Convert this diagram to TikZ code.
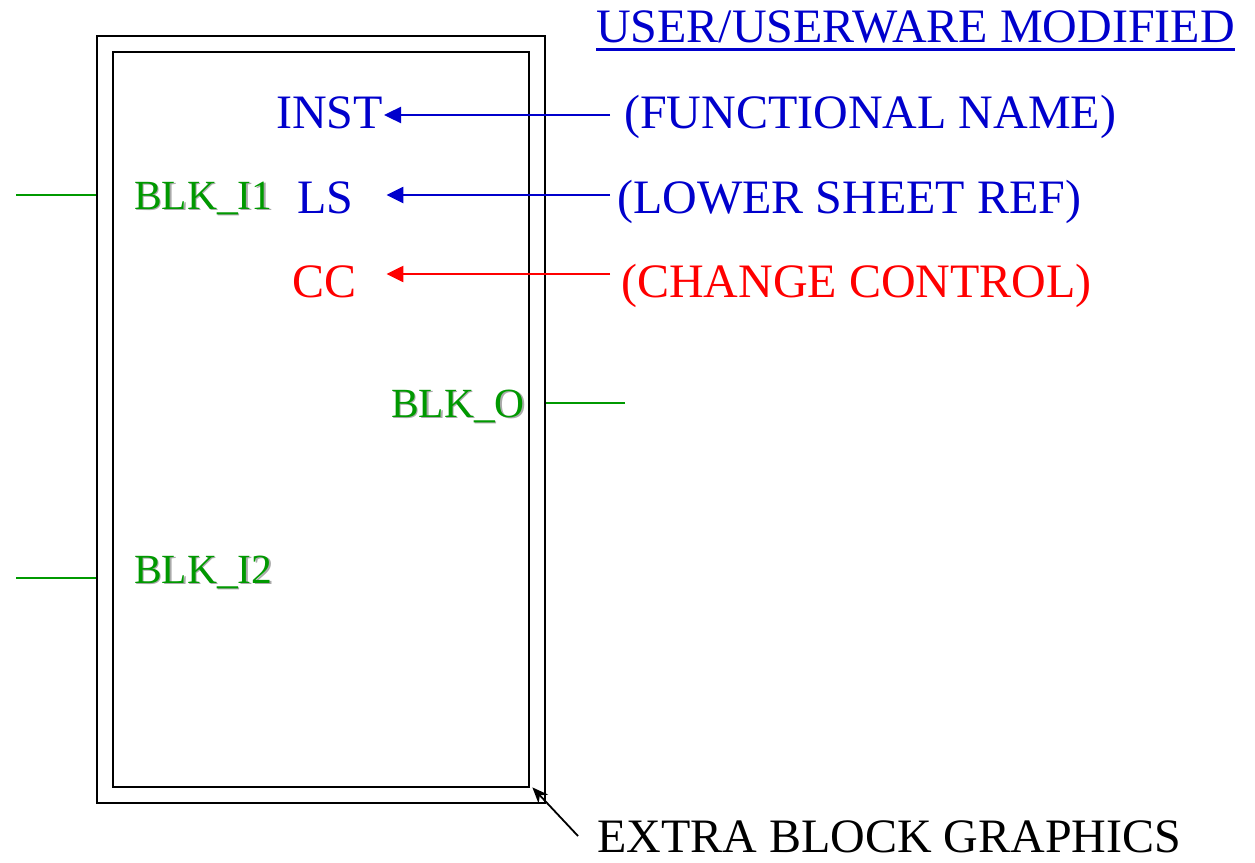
\documentclass[tikz,border=0pt]{standalone}
\usepackage{fontspec}
\setmainfont{Liberation Serif}
\usetikzlibrary{arrows.meta}
\definecolor{refblue}{RGB}{0,0,204}
\definecolor{refred}{RGB}{255,0,0}
\definecolor{pingreen}{RGB}{0,153,0}
\definecolor{pinshade}{RGB}{170,170,170}
% pin label with a soft drop shadow
\newcommand{\pinlabel}[1]{\makebox[0pt][l]{\raisebox{-1.6pt}{\hspace{1.6pt}\textcolor{pinshade}{#1}}}#1}
\tikzset{
  bigtext/.style={inner sep=0pt, font=\fontsize{48}{57}\selectfont},
  pintext/.style={inner sep=0pt, text=pingreen, font=\fontsize{41.5}{48}\selectfont},
  frame/.style={draw=black, line width=2.8pt, minimum width=#1},
  pinwire/.style={draw=pingreen, line width=2.2pt},
  tagarrow/.style={line width=2.4pt, -{Triangle[length=17pt,width=16pt]}},
}
\begin{document}
\begin{tikzpicture}[x=1pt,y=-1pt]
\useasboundingbox (0,0) rectangle (1255,862);

% symbol body: outer and inner frame
\node[frame=448pt, minimum height=767pt, inner sep=0pt] (outer) at (321,419.5) {};
\node[frame=416pt, minimum height=735pt, inner sep=0pt] (inner) at (321,419.5) {};

% pin names
\node[pintext, anchor=base west] (i1) at (134,209) {\pinlabel{BLK\_I1}};
\node[pintext, anchor=base west] (i2) at (134,583) {\pinlabel{BLK\_I2}};
\node[pintext, anchor=base east] (o) at (525,417) {\pinlabel{BLK\_O}};

% pin wires
\coordinate (w1) at (16,195);
\coordinate (w2) at (16,578);
\coordinate (wo) at (625,403);
\draw[pinwire] (w1) -- (w1 -| outer.west);
\draw[pinwire] (w2) -- (w2 -| outer.west);
\draw[pinwire] (wo) -- (wo -| outer.east);

% block attributes
\node[bigtext, text=refblue, anchor=base east] (inst) at (383,128) {INST};
\node[bigtext, text=refblue, anchor=base west] (ls) at (297,213) {LS};
\node[bigtext, text=refred, anchor=base west] (cc) at (292,297) {CC};

% attribute descriptions
\node[bigtext, text=refblue, anchor=base west] (fn) at (624,128) {(FUNCTIONAL NAME)};
\node[bigtext, text=refblue, anchor=base west] (lsr) at (617,213) {(LOWER SHEET REF)};
\node[bigtext, text=refred, anchor=base west] (ccr) at (621,297) {(CHANGE CONTROL)};

\coordinate (s1) at (610,115);
\coordinate (s2) at (610,195);
\coordinate (s3) at (610,274);
\draw[tagarrow, refblue] (s1) -- ([xshift=1pt]s1 -| inst.east);
\draw[tagarrow, refblue] (s2) -- ([xshift=33pt]s2 -| ls.east);
\draw[tagarrow, refred] (s3) -- ([xshift=30pt]s3 -| cc.east);

% heading
\node[bigtext, text=refblue, anchor=base west] (title) at (596,42) {USER/USERWARE MODIFIED};
\draw[refblue, line width=3pt] ([yshift=-7pt]title.base west) -- ([yshift=-7pt]title.base east);

% extra graphics callout
\node[bigtext, anchor=base west] (extra) at (597,852) {EXTRA BLOCK GRAPHICS};
\coordinate (eg) at (578,836);
\draw[line width=1.8pt, -{Stealth[length=16pt,width=13pt]}] (eg) -- ([shift={(2pt,1pt)}]inner.south east);
\end{tikzpicture}
\end{document}
